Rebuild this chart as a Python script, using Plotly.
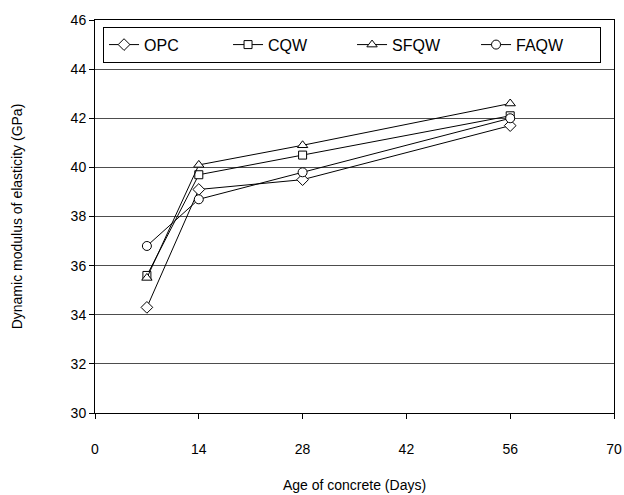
import plotly.graph_objects as go

days = [7, 14, 28, 56]
series_names = ["OPC", "CQW", "SFQW", "FAQW"]
opc = [34.3, 39.1, 39.5, 41.7]
cqw = [35.6, 39.7, 40.5, 42.1]
sfqw = [35.5, 40.1, 40.9, 42.6]
faqw = [36.8, 38.7, 39.8, 42.0]
x_ticks = [0, 14, 28, 42, 56, 70]
y_ticks = [30, 32, 34, 36, 38, 40, 42, 44, 46]

symbols = ["diamond", "square", "triangle-up", "circle"]
sizes = [9, 8, 9, 9]
values = [opc, cqw, sfqw, faqw]

fig = go.Figure()
for name, vals, sym, sz in zip(series_names, values, symbols, sizes):
    fig.add_trace(go.Scatter(
        x=days, y=vals, name=name, mode="lines+markers",
        line=dict(color="black", width=1),
        marker=dict(symbol=sym, size=sz, color="white",
                    line=dict(color="black", width=1)),
    ))

font = "Liberation Sans, Arial, sans-serif"
fig.update_layout(
    width=624, height=495,
    margin=dict(l=95, r=10, t=20, b=82),
    paper_bgcolor="white", plot_bgcolor="white",
    font=dict(family=font, size=14, color="black"),
    showlegend=True,
    legend=dict(
        orientation="h", x=0.0155, y=0.983, xanchor="left", yanchor="top",
        bordercolor="black", borderwidth=1, bgcolor="white",
        font=dict(size=16), entrywidth=79, entrywidthmode="pixels",
        itemwidth=30,
    ),
    xaxis=dict(
        range=[0, 70], tickvals=x_ticks, ticks="outside", ticklen=5,
        tickcolor="black", showline=True, linecolor="black", linewidth=1,
        mirror=True, showgrid=False, zeroline=False, automargin=False,
        ticklabelstandoff=18,
        title=dict(text="Age of concrete (Days)", standoff=24,
                   font=dict(size=14)),
        tickfont=dict(size=14),
    ),
    yaxis=dict(
        range=[30, 46], tickvals=y_ticks, ticks="outside", ticklen=5,
        tickcolor="black", showline=True, linecolor="black", linewidth=1,
        mirror=True, showgrid=True, gridcolor="#4d4d4d", gridwidth=1,
        zeroline=False, automargin=False,
        title=dict(text="Dynamic modulus of elasticity (GPa)", standoff=44,
                   font=dict(size=14)),
        tickfont=dict(size=14),
    ),
)

fig.write_html("out.html")
